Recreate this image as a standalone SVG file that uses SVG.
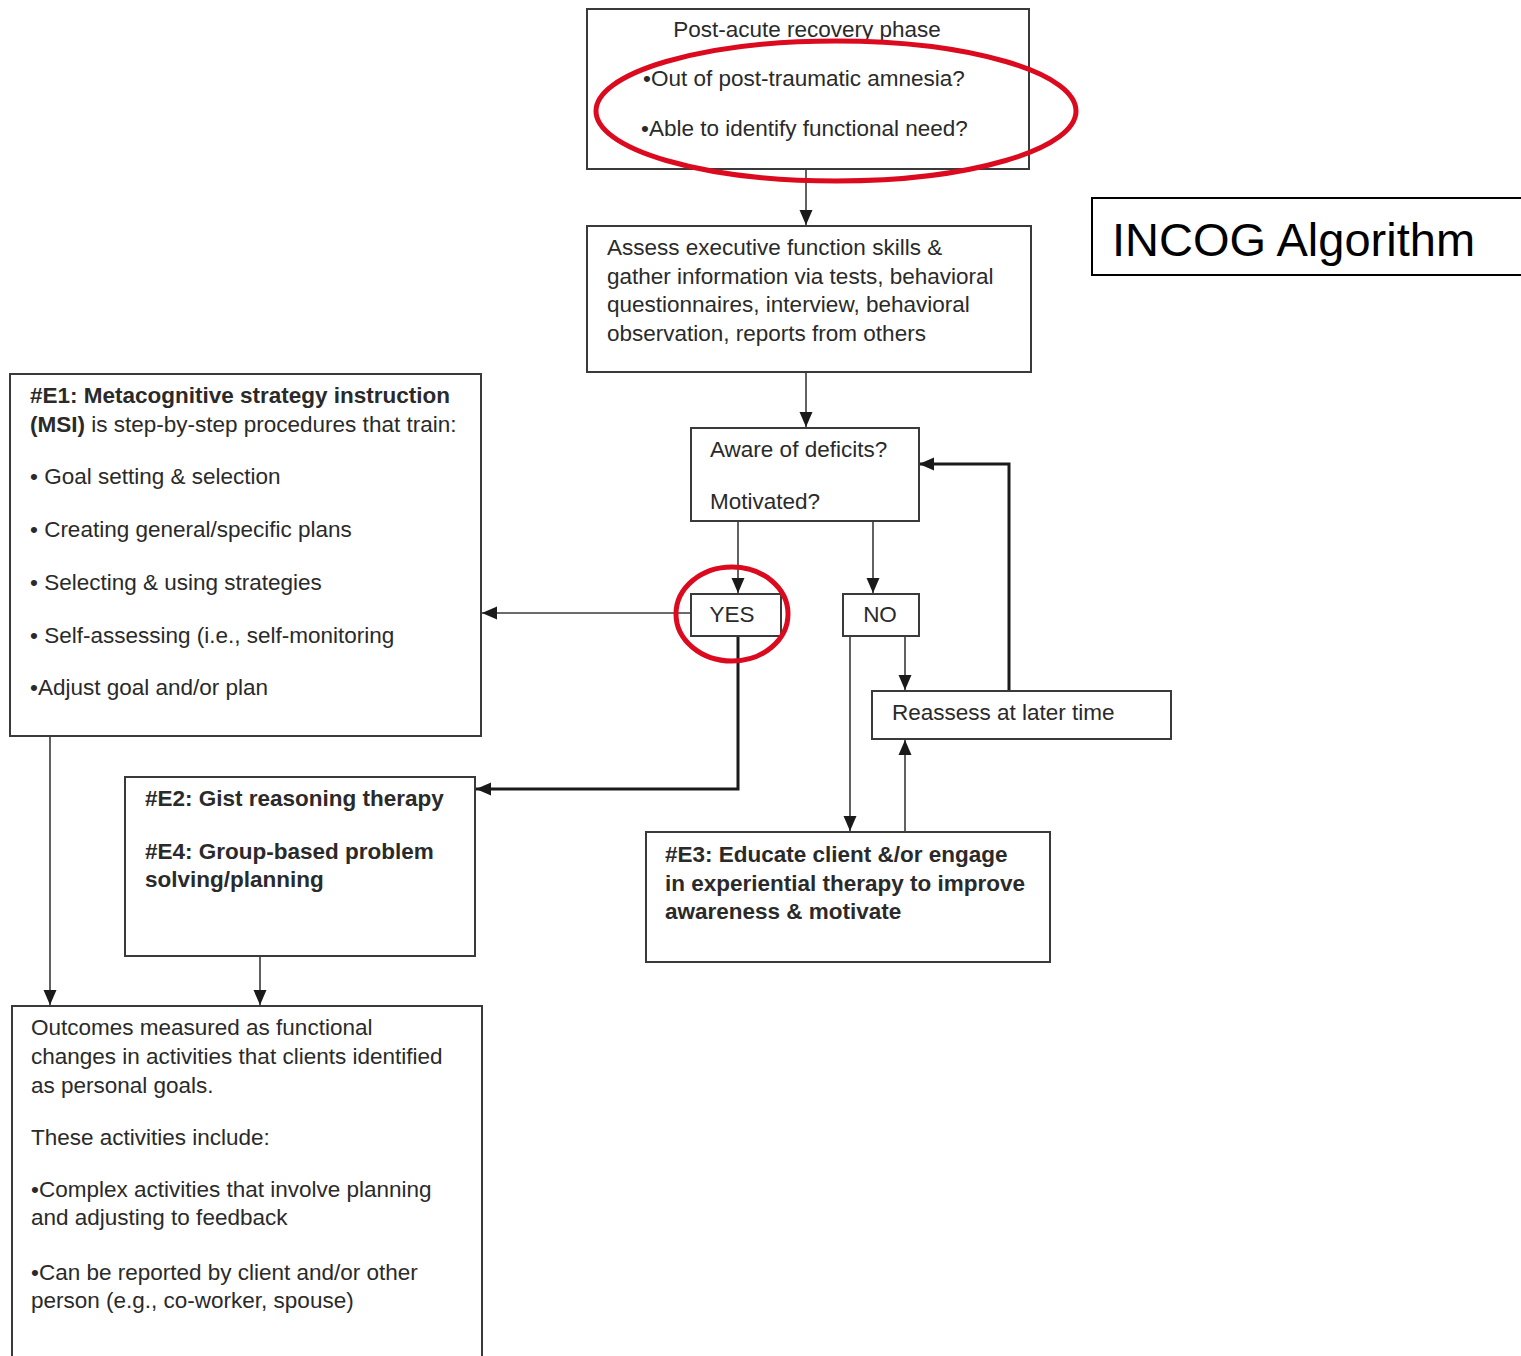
<svg xmlns="http://www.w3.org/2000/svg" width="1521" height="1356" viewBox="0 0 1521 1356">
<style>
.box{fill:#fff;stroke:#3a3a3a;stroke-width:2}
.t{font-family:"Liberation Sans",Arial,sans-serif;font-size:22.5px;fill:#2a2a2a}
.b{font-weight:bold}
.c{fill:none;stroke:#3a3a3a;stroke-width:1.6}
.k{fill:none;stroke:#1a1a1a;stroke-width:3}
.red{fill:none;stroke:#dc0a1e;stroke-width:5}
</style>
<defs>
<marker id="ah" markerUnits="userSpaceOnUse" markerWidth="16" markerHeight="16" viewBox="0 0 16 16" refX="15" refY="8" orient="auto">
<path d="M0,1.5 L15,8 L0,14.5 Z" fill="#1a1a1a"/>
</marker>
</defs>
<rect width="1521" height="1356" fill="#fff"/>

<g id="connectors">
<path class="c" d="M806,169 V225" marker-end="url(#ah)"/>
<path class="c" d="M806,372 V427" marker-end="url(#ah)"/>
<path class="c" d="M738,521 V593" marker-end="url(#ah)"/>
<path class="c" d="M873,521 V593" marker-end="url(#ah)"/>
<path class="c" d="M691,613 H482" marker-end="url(#ah)"/>
<path class="k" d="M738,636 V789 H476" marker-end="url(#ah)"/>
<path class="c" d="M850,636 V831" marker-end="url(#ah)"/>
<path class="c" d="M905,636 V690" marker-end="url(#ah)"/>
<path class="k" d="M1009,691 V464 H919" marker-end="url(#ah)"/>
<path class="c" d="M905,831 V740" marker-end="url(#ah)"/>
<path class="c" d="M50,736 V1005" marker-end="url(#ah)"/>
<path class="c" d="M260,956 V1005" marker-end="url(#ah)"/>
</g>

<g id="post-acute">
<rect class="box" x="587" y="9" width="442" height="160"/>
<text class="t" x="807" y="37" text-anchor="middle">Post-acute recovery phase</text>
<text class="t" x="643" y="86">•Out of post-traumatic amnesia?</text>
<text class="t" x="641" y="136">•Able to identify functional need?</text>
</g>

<g id="assess">
<rect class="box" x="587" y="226" width="444" height="146"/>
<text class="t" x="607" y="255">Assess executive function skills &amp;</text>
<text class="t" x="607" y="284">gather information via tests, behavioral</text>
<text class="t" x="607" y="312">questionnaires, interview, behavioral</text>
<text class="t" x="607" y="341">observation, reports from others</text>
</g>

<g id="aware">
<rect class="box" x="691" y="428" width="228" height="93"/>
<text class="t" x="710" y="457">Aware of deficits?</text>
<text class="t" x="710" y="509">Motivated?</text>
</g>

<g id="yes">
<rect class="box" x="691" y="594" width="90" height="42"/>
<text class="t" x="732" y="622" text-anchor="middle">YES</text>
</g>

<g id="no">
<rect class="box" x="843" y="594" width="76" height="42"/>
<text class="t" x="880" y="622" text-anchor="middle">NO</text>
</g>

<g id="reassess">
<rect class="box" x="872" y="691" width="299" height="48"/>
<text class="t" x="892" y="720">Reassess at later time</text>
</g>

<g id="e3">
<rect class="box" x="646" y="832" width="404" height="130"/>
<text class="t b" x="665" y="862">#E3: Educate client &amp;/or engage</text>
<text class="t b" x="665" y="891">in experiential therapy to improve</text>
<text class="t b" x="665" y="919">awareness &amp; motivate</text>
</g>

<g id="e1">
<rect class="box" x="10" y="374" width="471" height="362"/>
<text class="t b" x="30" y="403">#E1: Metacognitive strategy instruction</text>
<text class="t" x="30" y="432"><tspan class="b">(MSI)</tspan> is step-by-step procedures that train:</text>
<text class="t" x="30" y="484">• Goal setting &amp; selection</text>
<text class="t" x="30" y="537">• Creating general/specific plans</text>
<text class="t" x="30" y="590">• Selecting &amp; using strategies</text>
<text class="t" x="30" y="643">• Self-assessing (i.e., self-monitoring</text>
<text class="t" x="30" y="695">•Adjust goal and/or plan</text>
</g>

<g id="e2">
<rect class="box" x="125" y="777" width="350" height="179"/>
<text class="t b" x="145" y="806">#E2: Gist reasoning therapy</text>
<text class="t b" x="145" y="859">#E4: Group-based problem</text>
<text class="t b" x="145" y="887">solving/planning</text>
</g>

<g id="outcomes">
<rect class="box" x="12" y="1006" width="470" height="360"/>
<text class="t" x="31" y="1035">Outcomes measured as functional</text>
<text class="t" x="31" y="1064">changes in activities that clients identified</text>
<text class="t" x="31" y="1093">as personal goals.</text>
<text class="t" x="31" y="1145">These activities include:</text>
<text class="t" x="31" y="1197">•Complex activities that involve planning</text>
<text class="t" x="31" y="1225">and adjusting to feedback</text>
<text class="t" x="31" y="1280">•Can be reported by client and/or other</text>
<text class="t" x="31" y="1308">person (e.g., co-worker, spouse)</text>
</g>

<g id="highlights">
<ellipse class="red" cx="836" cy="111" rx="240" ry="70"/>
<ellipse class="red" cx="732" cy="614" rx="56" ry="47"/>
</g>

<g id="title">
<rect x="1092" y="198" width="440" height="77" fill="#fff" stroke="#000" stroke-width="2"/>
<text x="1112" y="256" style="font-family:'Liberation Sans',Arial,sans-serif;font-size:47px;fill:#000">INCOG Algorithm</text>
</g>
</svg>
